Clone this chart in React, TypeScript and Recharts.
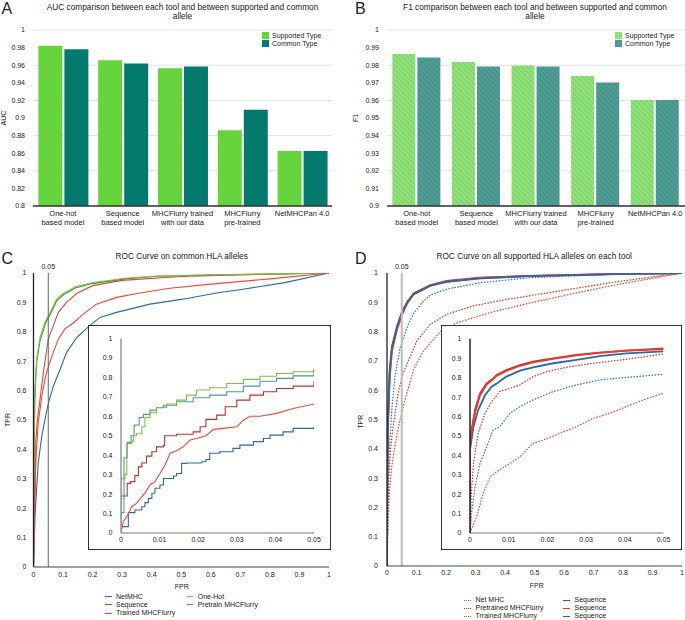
import React from "react";
import {
  BarChart,
  Bar,
  XAxis,
  YAxis,
  CartesianGrid,
  LineChart,
  Line,
  ReferenceLine,
} from "recharts";

const FONT = '"Liberation Sans", Arial, Helvetica, sans-serif';
const INK = "#222";

// ---------- panels A and B (bar charts) ----------
const tools = [
  "One-hot based model",
  "Sequence based model",
  "MHCFlurry trained with our data",
  "MHCFlurry pre-trained",
  "NetMHCPan 4.0",
];
const toolLabelLines = [
  ["One-hot", "based model"],
  ["Sequence", "based model"],
  ["MHCFlurry trained", "with our data"],
  ["MHCFlurry", "pre-trained"],
  ["NetMHCPan 4.0"],
];
const aucSupported = [0.982, 0.9655, 0.9565, 0.886, 0.8625];
const aucCommon = [0.978, 0.962, 0.9585, 0.9095, 0.8625];
const f1Supported = [0.9863, 0.9818, 0.9799, 0.9738, 0.9602];
const f1Common = [0.9844, 0.9792, 0.9792, 0.9702, 0.9602];
const aucTicks = [0.8, 0.82, 0.84, 0.86, 0.88, 0.9, 0.92, 0.94, 0.96, 0.98, 1];
const f1Ticks = [0.9, 0.91, 0.92, 0.93, 0.94, 0.95, 0.96, 0.97, 0.98, 0.99, 1];

// ---------- panels C and D (ROC curves), [fpr, tpr] ----------
type Pair = [number, number];
const fprTicks = [0, 0.1, 0.2, 0.3, 0.4, 0.5, 0.6, 0.7, 0.8, 0.9, 1];
const tprTicks = [0, 0.1, 0.2, 0.3, 0.4, 0.5, 0.6, 0.7, 0.8, 0.9, 1];
const zoomFprTicks = [0, 0.01, 0.02, 0.03, 0.04, 0.05];

// C: common HLA alleles, full range
const netMhcRoc: Pair[] = [[0,0],[0.002,0.06],[0.005,0.17],[0.011,0.274],[0.016,0.354],[0.028,0.445],[0.041,0.513],[0.051,0.559],[0.067,0.615],[0.09,0.672],[0.112,0.73],[0.146,0.78],[0.189,0.82],[0.225,0.849],[0.281,0.866],[0.394,0.894],[0.506,0.911],[0.619,0.932],[0.709,0.945],[0.855,0.968],[1,1]];
const sequenceRoc: Pair[] = [[0,0],[0.002,0.3],[0.004,0.55],[0.007,0.63],[0.011,0.7],[0.022,0.77],[0.04,0.828],[0.056,0.858],[0.078,0.905],[0.1,0.925],[0.141,0.949],[0.197,0.964],[0.31,0.98],[0.42,0.989],[0.6,0.993],[0.8,0.996],[1,1]];
const trainedRoc: Pair[] = [[0,0],[0.003,0.149],[0.006,0.263],[0.008,0.433],[0.013,0.5],[0.022,0.57],[0.033,0.66],[0.045,0.74],[0.05,0.775],[0.067,0.82],[0.084,0.866],[0.112,0.9],[0.146,0.93],[0.2,0.957],[0.3,0.975],[0.5,0.988],[0.75,0.995],[1,1]];
const oneHotRoc: Pair[] = [[0,0],[0.002,0.33],[0.004,0.58],[0.007,0.65],[0.011,0.71],[0.022,0.78],[0.04,0.835],[0.056,0.865],[0.078,0.91],[0.1,0.93],[0.141,0.953],[0.197,0.967],[0.31,0.982],[0.42,0.99],[0.6,0.994],[0.8,0.997],[1,1]];
const pretrainRoc: Pair[] = [[0,0],[0.002,0.15],[0.0045,0.26],[0.0085,0.376],[0.016,0.49],[0.028,0.58],[0.041,0.65],[0.051,0.683],[0.067,0.73],[0.084,0.775],[0.106,0.81],[0.135,0.83],[0.168,0.86],[0.213,0.894],[0.281,0.917],[0.36,0.932],[0.461,0.948],[0.6,0.962],[0.8,0.98],[1,1]];

// C inset, fpr 0..0.05
const netMhcZoom: Pair[] = [[0,0],[0,0.033],[0.0019,0.105],[0.0036,0.118],[0.0054,0.135],[0.0062,0.156],[0.0071,0.178],[0.008,0.204],[0.0088,0.23],[0.0101,0.247],[0.011,0.28],[0.0136,0.293],[0.0144,0.306],[0.0157,0.358],[0.017,0.36],[0.0209,0.366],[0.022,0.378],[0.023,0.41],[0.0256,0.418],[0.029,0.435],[0.0308,0.452],[0.0343,0.47],[0.0369,0.486],[0.0386,0.503],[0.042,0.52],[0.0446,0.538],[0.05,0.546]];
const sequenceZoom: Pair[] = [[0,0],[0,0.105],[0.00078,0.387],[0.0016,0.466],[0.0026,0.5],[0.0034,0.555],[0.0047,0.594],[0.0058,0.61],[0.0075,0.632],[0.0092,0.644],[0.011,0.657],[0.0144,0.675],[0.0187,0.695],[0.023,0.709],[0.0274,0.726],[0.0317,0.755],[0.036,0.78],[0.0403,0.795],[0.0446,0.808],[0.05,0.842]];
const trainedZoom: Pair[] = [[0,0],[0,0.19],[0.0016,0.255],[0.0025,0.264],[0.0036,0.295],[0.0045,0.34],[0.0054,0.36],[0.0066,0.395],[0.008,0.418],[0.0092,0.443],[0.011,0.45],[0.0113,0.5],[0.0144,0.508],[0.0187,0.52],[0.0205,0.546],[0.022,0.584],[0.0248,0.606],[0.027,0.649],[0.03,0.683],[0.0334,0.709],[0.0369,0.726],[0.0403,0.743],[0.0446,0.755],[0.05,0.78]];
const oneHotZoom: Pair[] = [[0,0],[0,0.279],[0.001,0.3],[0.0015,0.46],[0.0028,0.47],[0.0032,0.5],[0.004,0.51],[0.0054,0.546],[0.0062,0.594],[0.0075,0.618],[0.0092,0.645],[0.0118,0.663],[0.0144,0.683],[0.017,0.709],[0.0196,0.735],[0.023,0.747],[0.0274,0.769],[0.0317,0.79],[0.036,0.806],[0.0403,0.82],[0.0446,0.829],[0.05,0.842]];
const pretrainZoom: Pair[] = [[0,0],[0.0006,0.058],[0.0015,0.084],[0.0028,0.135],[0.004,0.152],[0.0054,0.187],[0.0062,0.204],[0.0075,0.247],[0.0088,0.264],[0.0101,0.306],[0.0114,0.35],[0.0127,0.41],[0.0144,0.423],[0.0161,0.443],[0.0179,0.478],[0.0196,0.486],[0.022,0.5],[0.024,0.533],[0.0265,0.538],[0.03,0.546],[0.0317,0.58],[0.0334,0.6],[0.036,0.6],[0.0403,0.615],[0.0446,0.64],[0.05,0.663]];

// D: all supported alleles, full range
const netMhcAllRoc: Pair[] = [[0,0],[0.003,0.12],[0.008,0.25],[0.015,0.33],[0.025,0.4],[0.04,0.48],[0.057,0.553],[0.09,0.67],[0.124,0.735],[0.181,0.8],[0.237,0.83],[0.35,0.865],[0.464,0.893],[0.633,0.93],[0.757,0.956],[1,1]];
const pretrainedAllRoc: Pair[] = [[0,0],[0.002,0.15],[0.006,0.3],[0.012,0.4],[0.02,0.47],[0.03,0.54],[0.04,0.6],[0.052,0.65],[0.068,0.69],[0.102,0.77],[0.147,0.825],[0.204,0.86],[0.294,0.888],[0.407,0.91],[0.52,0.928],[0.757,0.967],[1,1]];
const trainedAllRoc: Pair[] = [[0,0],[0.002,0.2],[0.006,0.372],[0.017,0.542],[0.028,0.655],[0.045,0.746],[0.068,0.814],[0.09,0.862],[0.12,0.9],[0.147,0.925],[0.203,0.945],[0.317,0.967],[0.486,0.984],[0.75,0.995],[1,1]];
const seqDarkAllRoc: Pair[] = [[0,0],[0.001,0.3],[0.003,0.485],[0.009,0.655],[0.017,0.746],[0.034,0.814],[0.051,0.865],[0.068,0.899],[0.09,0.93],[0.147,0.959],[0.203,0.973],[0.317,0.984],[0.486,0.99],[0.75,0.996],[1,1]];
const seqRedAllRoc: Pair[] = [[0,0],[0.001,0.28],[0.003,0.46],[0.009,0.64],[0.017,0.735],[0.034,0.806],[0.051,0.858],[0.068,0.895],[0.09,0.927],[0.147,0.957],[0.203,0.971],[0.317,0.983],[0.486,0.99],[0.75,0.996],[1,1]];
const seqBlueAllRoc: Pair[] = [[0,0],[0.001,0.32],[0.003,0.5],[0.009,0.67],[0.017,0.75],[0.034,0.818],[0.051,0.868],[0.068,0.9],[0.09,0.928],[0.147,0.957],[0.203,0.97],[0.317,0.982],[0.486,0.989],[0.75,0.995],[1,1]];

// D inset
const netMhcAllZoom: Pair[] = [[0,0],[0.0017,0.084],[0.0034,0.204],[0.0052,0.29],[0.0069,0.316],[0.0103,0.359],[0.0129,0.393],[0.0163,0.462],[0.0189,0.479],[0.0232,0.514],[0.0275,0.548],[0.0318,0.591],[0.0361,0.617],[0.0404,0.651],[0.0447,0.686],[0.05,0.72]];
const pretrainedAllZoom: Pair[] = [[0,0],[0.0003,0.187],[0.0009,0.359],[0.0021,0.514],[0.0039,0.617],[0.0056,0.677],[0.0077,0.729],[0.0103,0.746],[0.0129,0.763],[0.0163,0.806],[0.0198,0.832],[0.0249,0.854],[0.0318,0.875],[0.0404,0.895],[0.05,0.923]];
const trainedAllZoom: Pair[] = [[0,0],[0.0004,0.1],[0.0013,0.239],[0.0026,0.359],[0.0043,0.445],[0.006,0.531],[0.0077,0.548],[0.0103,0.617],[0.0129,0.651],[0.0163,0.686],[0.0215,0.729],[0.0275,0.763],[0.0335,0.789],[0.0404,0.802],[0.05,0.818]];
const seqDarkAllZoom: Pair[] = [[0,0],[0,0.479],[0.0004,0.53],[0.0013,0.634],[0.0026,0.72],[0.0043,0.771],[0.006,0.797],[0.0069,0.814],[0.0094,0.84],[0.0129,0.866],[0.0163,0.883],[0.0215,0.9],[0.0275,0.918],[0.0335,0.93],[0.0404,0.94],[0.05,0.948]];
const seqRedAllZoom: Pair[] = [[0,0],[0,0.46],[0.0004,0.52],[0.0013,0.62],[0.0026,0.71],[0.0043,0.765],[0.006,0.793],[0.0069,0.81],[0.0094,0.835],[0.0129,0.862],[0.0163,0.88],[0.0215,0.898],[0.0275,0.916],[0.0335,0.929],[0.0404,0.94],[0.05,0.952]];
const seqBlueAllZoom: Pair[] = [[0,0],[0,0.43],[0.0009,0.548],[0.0021,0.634],[0.0039,0.711],[0.0056,0.754],[0.0069,0.771],[0.0094,0.806],[0.0129,0.837],[0.0163,0.854],[0.0215,0.875],[0.0275,0.892],[0.0335,0.912],[0.0404,0.926],[0.05,0.936]];

const toPoints = (pairs: Pair[]) => pairs.map(([fpr, tpr]) => ({ fpr, tpr }));

type Series = {
  name: string;
  color: string;
  pts: Pair[];
  dashed?: boolean;
  width?: number;
  step?: boolean;
};

const commonSeries: Series[] = [
  { name: "NetMHC", color: "#2c6ba4", pts: netMhcRoc },
  { name: "Sequence", color: "#3d8b37", pts: sequenceRoc },
  { name: "Trained MHCFlurry", color: "#d9493f", pts: trainedRoc },
  { name: "One-Hot", color: "#7cc242", pts: oneHotRoc },
  { name: "Pretrain MHCFlurry", color: "#f4473a", pts: pretrainRoc },
];
const commonZoomSeries: Series[] = [
  { name: "NetMHC", color: "#2f6aa0", pts: netMhcZoom, step: true },
  { name: "Trained MHCFlurry", color: "#b8352e", pts: trainedZoom, step: true },
  { name: "Pretrain MHCFlurry", color: "#f2473a", pts: pretrainZoom },
  { name: "Sequence", color: "#4f9a90", pts: sequenceZoom, step: true },
  { name: "One-Hot", color: "#7cc242", pts: oneHotZoom, step: true },
];
const allSeries: Series[] = [
  { name: "Net MHC", color: "#f0483c", pts: netMhcAllRoc, dashed: true },
  { name: "Pretrained MHCFlurry", color: "#d83a30", pts: pretrainedAllRoc, dashed: true },
  { name: "Trrained MHCFlurry", color: "#3a78b5", pts: trainedAllRoc, dashed: true },
  { name: "Sequence", color: "#c42a20", pts: seqDarkAllRoc, width: 1.8 },
  { name: "Sequence", color: "#ec3a2c", pts: seqRedAllRoc, width: 1.8 },
  { name: "Sequence", color: "#2d67a0", pts: seqBlueAllRoc, width: 1.8 },
];
const allZoomSeries: Series[] = [
  { name: "Net MHC", color: "#f0483c", pts: netMhcAllZoom, dashed: true },
  { name: "Pretrained MHCFlurry", color: "#d83a30", pts: pretrainedAllZoom, dashed: true },
  { name: "Trrained MHCFlurry", color: "#3a78b5", pts: trainedAllZoom, dashed: true },
  { name: "Sequence", color: "#2d67a0", pts: seqBlueAllZoom, width: 1.8 },
  { name: "Sequence", color: "#c42a20", pts: seqDarkAllZoom, width: 1.8 },
  { name: "Sequence", color: "#ec3a2c", pts: seqRedAllZoom, width: 1.8 },
];

const tickFont = { fontSize: 7, fill: INK, fontFamily: FONT };

function ToolTick(props: any) {
  const { x, y, payload } = props;
  const lines = toolLabelLines[tools.indexOf(payload.value)] || [payload.value];
  return (
    <text x={x} y={y} textAnchor="middle" fontSize={7.5} fill={INK} fontFamily={FONT}>
      {lines.map((l: string, i: number) => (
        <tspan key={i} x={x} dy={i === 0 ? 10 : 9.2}>
          {l}
        </tspan>
      ))}
    </text>
  );
}

function ComparisonBars(props: {
  supported: number[];
  common: number[];
  ticks: number[];
  width: number;
  yWidth: number;
  hatched?: boolean;
}) {
  const { supported, common, ticks, width, yWidth, hatched } = props;
  const data = tools.map((tool, i) => ({ tool, supported: supported[i], common: common[i] }));
  return (
    <BarChart
      width={width}
      height={250}
      data={data}
      margin={{ top: 30, right: 0, bottom: 0, left: 0 }}
      barCategoryGap="9%"
      barGap={2}
    >
      <defs>
        <pattern id="hatchSup" patternUnits="userSpaceOnUse" width="5" height="5">
          <rect width="5" height="5" fill="#8fe07a" />
          <path d="M-1,-1 L6,6 M4,-1 L6,1 M-1,4 L1,6" stroke="#70cc59" strokeWidth="0.9" />
        </pattern>
        <pattern id="hatchCom" patternUnits="userSpaceOnUse" width="5" height="5">
          <rect width="5" height="5" fill="#4e9c94" />
          <path d="M-1,-1 L6,6 M4,-1 L6,1 M-1,4 L1,6" stroke="#3d8a82" strokeWidth="0.9" />
        </pattern>
      </defs>
      <CartesianGrid vertical={false} stroke="#e4e4e4" />
      <XAxis
        dataKey="tool"
        interval={0}
        tick={<ToolTick />}
        tickLine={false}
        tickSize={0}
        tickMargin={0}
        height={44}
        axisLine={{ stroke: "#333", strokeWidth: 1.3 }}
      />
      <YAxis
        domain={[ticks[0], 1]}
        ticks={ticks}
        allowDataOverflow
        width={yWidth}
        axisLine={false}
        tickLine={false}
        tickSize={0}
        tickMargin={8}
        tick={tickFont}
      />
      <Bar
        dataKey="supported"
        fill={hatched ? "url(#hatchSup)" : "#66d43c"}
        isAnimationActive={false}
      />
      <Bar
        dataKey="common"
        fill={hatched ? "url(#hatchCom)" : "#047a6e"}
        isAnimationActive={false}
      />
    </BarChart>
  );
}

function BarLegend({ left, colors }: { left: number; colors: string[] }) {
  const names = ["Supported Type", "Common Type"];
  return (
    <div style={{ position: "absolute", left, top: 31.5, fontFamily: FONT, fontSize: 7, color: INK }}>
      {names.map((n, i) => (
        <div key={n} style={{ display: "flex", alignItems: "center", height: 7.9 }}>
          <span style={{ width: 6.5, height: 6.5, background: colors[i], marginRight: 3.5 }} />
          <span>{n}</span>
        </div>
      ))}
    </div>
  );
}

function RocLines({ series }: { series: Series[] }) {
  return (
    <>
      {series.map((s, i) => (
        <Line
          key={i}
          data={toPoints(s.pts)}
          dataKey="tpr"
          name={s.name}
          type={s.step ? "stepAfter" : "linear"}
          stroke={s.color}
          strokeWidth={s.width ?? (s.dashed ? 1.2 : 1.1)}
          strokeDasharray={s.dashed ? "1.6 1.4" : undefined}
          dot={false}
          activeDot={false}
          isAnimationActive={false}
        />
      ))}
    </>
  );
}

function RocMain(props: {
  series: Series[];
  yWidth: number;
  right: number;
  width: number;
  refColor: string;
  refWidth: number;
  tickY: number;
  plotH: number;
}) {
  const { series, yWidth, right, width, refColor, refWidth, tickY, plotH } = props;
  return (
    <LineChart width={width} height={362} margin={{ top: 15, right, bottom: 0, left: 0 }}>
      <XAxis
        type="number"
        dataKey="fpr"
        domain={[0, 1]}
        ticks={fprTicks}
        allowDataOverflow
        height={362 - 15 - plotH}
        tickLine={false}
        tickSize={0}
        tickMargin={tickY}
        axisLine={{ stroke: "#444", strokeWidth: 1.2 }}
        tick={tickFont}
      />
      <YAxis
        type="number"
        domain={[0, 1]}
        ticks={tprTicks}
        allowDataOverflow
        width={yWidth}
        tickLine={false}
        tickSize={0}
        tickMargin={yWidth === 33.5 ? 7 : 9}
        axisLine={{ stroke: "#222", strokeWidth: 1.3 }}
        tick={tickFont}
      />
      {RocLines({ series })}
      <ReferenceLine
        x={0.05}
        stroke={refColor}
        strokeWidth={refWidth}
        label={{ value: "0.05", position: "top", offset: 4, fontSize: 7, fill: INK, fontFamily: FONT }}
      />
    </LineChart>
  );
}

function RocInset(props: {
  series: Series[];
  left: number;
  width: number;
  yWidth: number;
  right: number;
  top: number;
  yAxisColor: string;
}) {
  const { series, left, width, yWidth, right, top, yAxisColor } = props;
  return (
    <div
      style={{
        position: "absolute",
        left,
        top: 325,
        width: width + 2,
        height: 225,
        border: "1px solid #333",
        boxSizing: "border-box",
        background: "#fff",
      }}
    >
      <LineChart width={width} height={223} margin={{ top, right, bottom: 0, left: 0 }}>
        <XAxis
          type="number"
          dataKey="fpr"
          domain={[0, 0.05]}
          ticks={zoomFprTicks}
          allowDataOverflow
          height={223 - (533 - 326)}
          tickLine={false}
          tickSize={0}
          tickMargin={4.5}
          axisLine={{ stroke: "#777", strokeWidth: 1.2 }}
          tick={tickFont}
        />
        <YAxis
          type="number"
          domain={[0, 1]}
          ticks={tprTicks}
          allowDataOverflow
          width={yWidth}
          tickLine={false}
          tickSize={0}
          tickMargin={8.5}
          axisLine={{ stroke: yAxisColor, strokeWidth: 1.5 }}
          tick={tickFont}
        />
        {RocLines({ series })}
      </LineChart>
    </div>
  );
}

function RocLegend(props: { series: Series[]; left: number; top: number; colWidth: number; rowH: number; gap: number }) {
  const { series, left, top, colWidth, rowH, gap } = props;
  return (
    <div
      style={{
        position: "absolute",
        left,
        top,
        display: "grid",
        gridAutoFlow: "column",
        gridTemplateRows: `repeat(3, ${rowH}px)`,
        gridTemplateColumns: `repeat(2, ${colWidth}px)`,
        fontFamily: FONT,
        fontSize: 7,
        color: INK,
      }}
    >
      {series.map((s, i) => (
        <div key={i} style={{ display: "flex", alignItems: "center", whiteSpace: "nowrap", lineHeight: `${rowH}px` }}>
          <span
            style={{
              width: 6.5,
              height: 0,
              borderTop: `1.5px ${s.dashed ? "dotted" : "solid"} ${s.color}`,
              marginRight: gap,
            }}
          />
          <span>{s.name}</span>
        </div>
      ))}
    </div>
  );
}

export default function App() {
  const t = { fontFamily: FONT, fill: INK };
  return (
    <div
      style={{
        position: "fixed",
        left: 0,
        top: 0,
        width: 685,
        height: 620,
        background: "#fff",
        overflow: "hidden",
      }}
    >
      <div style={{ position: "absolute", left: 0, top: 0 }}>
        <ComparisonBars supported={aucSupported} common={aucCommon} ticks={aucTicks} width={332} yWidth={33} />
      </div>
      <div style={{ position: "absolute", left: 340, top: 0 }}>
        <ComparisonBars supported={f1Supported} common={f1Common} ticks={f1Ticks} width={345} yWidth={47} hatched />
      </div>
      <BarLegend left={262} colors={["#66d43c", "#047a6e"]} />
      <BarLegend left={615} colors={["#8fe07a", "#4e9c94"]} />

      <div style={{ position: "absolute", left: 0, top: 258 }}>
        <RocMain series={commonSeries} yWidth={33.5} right={11} width={340} refColor="#666" refWidth={1} tickY={5.5} plotH={294} />
      </div>
      <RocInset series={commonZoomSeries} left={88} width={241} yWidth={32} right={16} top={12.5} yAxisColor="#999" />
      <RocLegend series={commonSeries} left={105} top={592.5} colWidth={81.7} rowH={8.3} gap={4.5} />

      <div style={{ position: "absolute", left: 340, top: 258 }}>
        <RocMain series={allSeries} yWidth={47} right={3} width={345} refColor="#bdbdbd" refWidth={2} tickY={4.5} plotH={293} />
      </div>
      <RocInset series={allZoomSeries} left={441} width={239} yWidth={28} right={17.5} top={13} yAxisColor="#222" />
      <RocLegend series={allSeries} left={464} top={596} colWidth={99} rowH={8} gap={5} />

      <svg width={685} height={620} style={{ position: "absolute", left: 0, top: 0, pointerEvents: "none" }}>
        <text x={1.5} y={14} fontSize={16} {...t}>A</text>
        <text x={355} y={14} fontSize={16} {...t}>B</text>
        <text x={1.5} y={263.5} fontSize={16} {...t}>C</text>
        <text x={355} y={263.5} fontSize={16} {...t}>D</text>
        <text x={182.5} y={10.4} fontSize={8.3} textAnchor="middle" {...t}>
          AUC comparison between each tool and between supported and common
        </text>
        <text x={182.5} y={19.4} fontSize={8.3} textAnchor="middle" {...t}>allele</text>
        <text x={535} y={10.4} fontSize={8.3} textAnchor="middle" {...t}>
          F1 comparison between each tool and between supported and common
        </text>
        <text x={535} y={19.4} fontSize={8.3} textAnchor="middle" {...t}>allele</text>
        <text x={181.7} y={259.3} fontSize={8.3} textAnchor="middle" {...t}>ROC Curve on common HLA alleles</text>
        <text x={534.2} y={259.3} fontSize={8.3} textAnchor="middle" {...t}>ROC Curve on all supported HLA alleles on each tool</text>
        <text x={0} y={0} fontSize={7} textAnchor="middle" transform="translate(6,118) rotate(-90)" {...t}>AUC</text>
        <text x={0} y={0} fontSize={7} textAnchor="middle" transform="translate(357.5,118) rotate(-90)" {...t}>F1</text>
        <text x={0} y={0} fontSize={7} textAnchor="middle" transform="translate(9.5,420) rotate(-90)" {...t}>TPR</text>
        <text x={0} y={0} fontSize={7} textAnchor="middle" transform="translate(363,421.7) rotate(-90)" {...t}>TPR</text>
        <text x={181.7} y={588.5} fontSize={7} textAnchor="middle" {...t}>FPR</text>
        <text x={536.7} y={587.5} fontSize={7} textAnchor="middle" {...t}>FPR</text>
      </svg>
    </div>
  );
}
